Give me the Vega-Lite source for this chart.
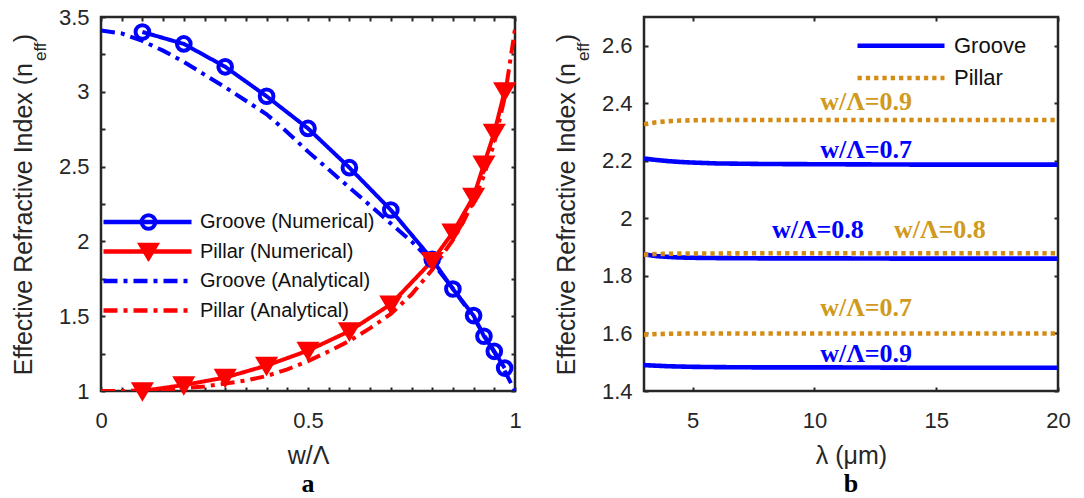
{
  "$schema": "https://vega.github.io/schema/vega-lite/v6.json",
  "background": "white",
  "padding": {"left": 10, "top": 4, "right": 5, "bottom": 0},
  "bounds": "flush",
  "spacing": 129,
  "resolve": {
    "scale": {"x": "independent", "y": "independent", "color": "independent", "strokeDash": "independent", "shape": "independent", "stroke": "independent", "fill": "independent"},
    "legend": {"color": "independent", "strokeDash": "independent", "shape": "independent", "stroke": "independent", "fill": "independent"}
  },
  "config": {
    "view": {"stroke": "#262626", "strokeWidth": 2.5},
    "font": "Liberation Sans",
    "axis": {
      "domain": false,
      "grid": false,
      "tickSize": -4,
      "tickWidth": 2,
      "tickColor": "#262626",
      "labelFont": "Liberation Sans",
      "labelFontSize": 22,
      "labelColor": "#262626",
      "labelFlush": false,
      "labelOverlap": false,
      "titleFont": "Liberation Sans",
      "titleFontSize": 25,
      "titleFontWeight": "normal",
      "titleColor": "#262626"
    },
    "axisX": {"labelPadding": 23, "titlePadding": 12},
    "axisY": {"labelPadding": 16, "titlePadding": 22},
    "legend": {"labelLimit": 400, "padding": 0, "titlePadding": 0}
  },
  "datasets": {
    "neff": [
      {"series": "Groove (Numerical)", "w": 0.1, "n": 3.40},
      {"series": "Groove (Numerical)", "w": 0.2, "n": 3.32},
      {"series": "Groove (Numerical)", "w": 0.3, "n": 3.167},
      {"series": "Groove (Numerical)", "w": 0.4, "n": 2.97},
      {"series": "Groove (Numerical)", "w": 0.5, "n": 2.755},
      {"series": "Groove (Numerical)", "w": 0.6, "n": 2.493},
      {"series": "Groove (Numerical)", "w": 0.7, "n": 2.21},
      {"series": "Groove (Numerical)", "w": 0.8, "n": 1.88},
      {"series": "Groove (Numerical)", "w": 0.85, "n": 1.682},
      {"series": "Groove (Numerical)", "w": 0.9, "n": 1.504},
      {"series": "Groove (Numerical)", "w": 0.925, "n": 1.366},
      {"series": "Groove (Numerical)", "w": 0.95, "n": 1.265},
      {"series": "Groove (Numerical)", "w": 0.975, "n": 1.153},
      {"series": "Pillar (Numerical)", "w": 0.1, "n": 1.0},
      {"series": "Pillar (Numerical)", "w": 0.2, "n": 1.04},
      {"series": "Pillar (Numerical)", "w": 0.3, "n": 1.09},
      {"series": "Pillar (Numerical)", "w": 0.4, "n": 1.17},
      {"series": "Pillar (Numerical)", "w": 0.5, "n": 1.27},
      {"series": "Pillar (Numerical)", "w": 0.6, "n": 1.40},
      {"series": "Pillar (Numerical)", "w": 0.7, "n": 1.58},
      {"series": "Pillar (Numerical)", "w": 0.8, "n": 1.87},
      {"series": "Pillar (Numerical)", "w": 0.85, "n": 2.06},
      {"series": "Pillar (Numerical)", "w": 0.9, "n": 2.30},
      {"series": "Pillar (Numerical)", "w": 0.925, "n": 2.515},
      {"series": "Pillar (Numerical)", "w": 0.95, "n": 2.727},
      {"series": "Pillar (Numerical)", "w": 0.975, "n": 3.004},
      {"series": "Groove (Analytical)", "w": 0, "n": 3.41},
      {"series": "Groove (Analytical)", "w": 0.05, "n": 3.39},
      {"series": "Groove (Analytical)", "w": 0.1, "n": 3.34},
      {"series": "Groove (Analytical)", "w": 0.15, "n": 3.275},
      {"series": "Groove (Analytical)", "w": 0.2, "n": 3.20},
      {"series": "Groove (Analytical)", "w": 0.25, "n": 3.115},
      {"series": "Groove (Analytical)", "w": 0.3, "n": 3.03},
      {"series": "Groove (Analytical)", "w": 0.35, "n": 2.94},
      {"series": "Groove (Analytical)", "w": 0.4, "n": 2.85},
      {"series": "Groove (Analytical)", "w": 0.45, "n": 2.73},
      {"series": "Groove (Analytical)", "w": 0.5, "n": 2.60},
      {"series": "Groove (Analytical)", "w": 0.55, "n": 2.48},
      {"series": "Groove (Analytical)", "w": 0.6, "n": 2.36},
      {"series": "Groove (Analytical)", "w": 0.65, "n": 2.24},
      {"series": "Groove (Analytical)", "w": 0.7, "n": 2.12},
      {"series": "Groove (Analytical)", "w": 0.75, "n": 2.00},
      {"series": "Groove (Analytical)", "w": 0.8, "n": 1.86},
      {"series": "Groove (Analytical)", "w": 0.85, "n": 1.685},
      {"series": "Groove (Analytical)", "w": 0.9, "n": 1.49},
      {"series": "Groove (Analytical)", "w": 0.925, "n": 1.375},
      {"series": "Groove (Analytical)", "w": 0.95, "n": 1.26},
      {"series": "Groove (Analytical)", "w": 0.975, "n": 1.135},
      {"series": "Groove (Analytical)", "w": 1.0, "n": 1.0},
      {"series": "Pillar (Analytical)", "w": 0, "n": 1.0},
      {"series": "Pillar (Analytical)", "w": 0.05, "n": 1.0},
      {"series": "Pillar (Analytical)", "w": 0.1, "n": 1.005},
      {"series": "Pillar (Analytical)", "w": 0.15, "n": 1.01},
      {"series": "Pillar (Analytical)", "w": 0.2, "n": 1.02},
      {"series": "Pillar (Analytical)", "w": 0.25, "n": 1.03},
      {"series": "Pillar (Analytical)", "w": 0.3, "n": 1.05},
      {"series": "Pillar (Analytical)", "w": 0.35, "n": 1.07},
      {"series": "Pillar (Analytical)", "w": 0.4, "n": 1.10},
      {"series": "Pillar (Analytical)", "w": 0.45, "n": 1.145},
      {"series": "Pillar (Analytical)", "w": 0.5, "n": 1.20},
      {"series": "Pillar (Analytical)", "w": 0.55, "n": 1.265},
      {"series": "Pillar (Analytical)", "w": 0.6, "n": 1.335},
      {"series": "Pillar (Analytical)", "w": 0.65, "n": 1.42},
      {"series": "Pillar (Analytical)", "w": 0.7, "n": 1.515},
      {"series": "Pillar (Analytical)", "w": 0.75, "n": 1.645},
      {"series": "Pillar (Analytical)", "w": 0.8, "n": 1.81},
      {"series": "Pillar (Analytical)", "w": 0.85, "n": 2.01},
      {"series": "Pillar (Analytical)", "w": 0.875, "n": 2.13},
      {"series": "Pillar (Analytical)", "w": 0.9, "n": 2.27},
      {"series": "Pillar (Analytical)", "w": 0.925, "n": 2.44},
      {"series": "Pillar (Analytical)", "w": 0.95, "n": 2.66},
      {"series": "Pillar (Analytical)", "w": 0.975, "n": 2.96},
      {"series": "Pillar (Analytical)", "w": 1.0, "n": 3.42}
    ],
    "spectra": [
      {"type": "Groove", "ratio": "0.7", "lam": 3, "n": 2.208},
      {"type": "Groove", "ratio": "0.7", "lam": 3.5, "n": 2.203},
      {"type": "Groove", "ratio": "0.7", "lam": 4, "n": 2.199},
      {"type": "Groove", "ratio": "0.7", "lam": 4.5, "n": 2.196},
      {"type": "Groove", "ratio": "0.7", "lam": 5, "n": 2.194},
      {"type": "Groove", "ratio": "0.7", "lam": 6, "n": 2.191},
      {"type": "Groove", "ratio": "0.7", "lam": 8, "n": 2.189},
      {"type": "Groove", "ratio": "0.7", "lam": 11, "n": 2.188},
      {"type": "Groove", "ratio": "0.7", "lam": 14, "n": 2.187},
      {"type": "Groove", "ratio": "0.7", "lam": 20, "n": 2.187},
      {"type": "Groove", "ratio": "0.8", "lam": 3, "n": 1.875},
      {"type": "Groove", "ratio": "0.8", "lam": 3.5, "n": 1.869},
      {"type": "Groove", "ratio": "0.8", "lam": 4, "n": 1.866},
      {"type": "Groove", "ratio": "0.8", "lam": 4.5, "n": 1.864},
      {"type": "Groove", "ratio": "0.8", "lam": 5, "n": 1.863},
      {"type": "Groove", "ratio": "0.8", "lam": 6, "n": 1.862},
      {"type": "Groove", "ratio": "0.8", "lam": 8, "n": 1.861},
      {"type": "Groove", "ratio": "0.8", "lam": 11, "n": 1.861},
      {"type": "Groove", "ratio": "0.8", "lam": 14, "n": 1.86},
      {"type": "Groove", "ratio": "0.8", "lam": 20, "n": 1.86},
      {"type": "Groove", "ratio": "0.9", "lam": 3, "n": 1.49},
      {"type": "Groove", "ratio": "0.9", "lam": 3.5, "n": 1.488},
      {"type": "Groove", "ratio": "0.9", "lam": 4, "n": 1.486},
      {"type": "Groove", "ratio": "0.9", "lam": 4.5, "n": 1.485},
      {"type": "Groove", "ratio": "0.9", "lam": 5, "n": 1.484},
      {"type": "Groove", "ratio": "0.9", "lam": 6, "n": 1.483},
      {"type": "Groove", "ratio": "0.9", "lam": 8, "n": 1.482},
      {"type": "Groove", "ratio": "0.9", "lam": 11, "n": 1.482},
      {"type": "Groove", "ratio": "0.9", "lam": 14, "n": 1.481},
      {"type": "Groove", "ratio": "0.9", "lam": 20, "n": 1.481},
      {"type": "Pillar", "ratio": "0.9", "lam": 3, "n": 2.327},
      {"type": "Pillar", "ratio": "0.9", "lam": 3.5, "n": 2.334},
      {"type": "Pillar", "ratio": "0.9", "lam": 4, "n": 2.338},
      {"type": "Pillar", "ratio": "0.9", "lam": 4.5, "n": 2.34},
      {"type": "Pillar", "ratio": "0.9", "lam": 5, "n": 2.341},
      {"type": "Pillar", "ratio": "0.9", "lam": 6, "n": 2.342},
      {"type": "Pillar", "ratio": "0.9", "lam": 8, "n": 2.342},
      {"type": "Pillar", "ratio": "0.9", "lam": 11, "n": 2.342},
      {"type": "Pillar", "ratio": "0.9", "lam": 14, "n": 2.342},
      {"type": "Pillar", "ratio": "0.9", "lam": 20, "n": 2.342},
      {"type": "Pillar", "ratio": "0.8", "lam": 3, "n": 1.874},
      {"type": "Pillar", "ratio": "0.8", "lam": 3.5, "n": 1.876},
      {"type": "Pillar", "ratio": "0.8", "lam": 4, "n": 1.877},
      {"type": "Pillar", "ratio": "0.8", "lam": 5, "n": 1.878},
      {"type": "Pillar", "ratio": "0.8", "lam": 6, "n": 1.878},
      {"type": "Pillar", "ratio": "0.8", "lam": 8, "n": 1.879},
      {"type": "Pillar", "ratio": "0.8", "lam": 11, "n": 1.879},
      {"type": "Pillar", "ratio": "0.8", "lam": 14, "n": 1.879},
      {"type": "Pillar", "ratio": "0.8", "lam": 20, "n": 1.879},
      {"type": "Pillar", "ratio": "0.7", "lam": 3, "n": 1.596},
      {"type": "Pillar", "ratio": "0.7", "lam": 3.5, "n": 1.598},
      {"type": "Pillar", "ratio": "0.7", "lam": 4, "n": 1.599},
      {"type": "Pillar", "ratio": "0.7", "lam": 5, "n": 1.6},
      {"type": "Pillar", "ratio": "0.7", "lam": 8, "n": 1.6},
      {"type": "Pillar", "ratio": "0.7", "lam": 11, "n": 1.6},
      {"type": "Pillar", "ratio": "0.7", "lam": 14, "n": 1.6},
      {"type": "Pillar", "ratio": "0.7", "lam": 20, "n": 1.6}
    ],
    "ratioLabels": [
      {"type": "Pillar", "label": "w/Λ=0.9", "lam": 12.12, "n": 2.403},
      {"type": "Groove", "label": "w/Λ=0.7", "lam": 12.12, "n": 2.239},
      {"type": "Groove", "label": "w/Λ=0.8", "lam": 10.14, "n": 1.959},
      {"type": "Pillar", "label": "w/Λ=0.8", "lam": 15.15, "n": 1.959},
      {"type": "Pillar", "label": "w/Λ=0.7", "lam": 12.12, "n": 1.687},
      {"type": "Groove", "label": "w/Λ=0.9", "lam": 12.12, "n": 1.53}
    ]
  },
  "hconcat": [
    {
      "width": 414,
      "height": 374,
      "title": {"text": "a", "orient": "bottom", "font": "Liberation Serif", "fontSize": 26, "fontWeight": "bold", "color": "#000000", "offset": 3},
      "resolve": {"axis": {"x": "independent", "y": "independent"}},
      "layer": [
        {
          "data": {"name": "neff"},
          "mark": {"type": "line", "strokeWidth": 4, "strokeCap": "butt", "clip": true},
          "encoding": {
            "x": {
              "field": "w", "type": "quantitative",
              "scale": {"domain": [0, 1], "nice": false, "zero": false},
              "axis": {
                "orient": "bottom", "title": "w/Λ",
                "values": [0, 0.05, 0.1, 0.15, 0.2, 0.25, 0.3, 0.35, 0.4, 0.45, 0.5, 0.55, 0.6, 0.65, 0.7, 0.75, 0.8, 0.85, 0.9, 0.95, 1],
                "labelExpr": "datum.value % 0.5 === 0 ? format(datum.value, '~g') : ''"
              }
            },
            "y": {
              "field": "n", "type": "quantitative",
              "scale": {"domain": [1, 3.5], "nice": false, "zero": false},
              "axis": {
                "orient": "left", "title": "Effective Refractive Index (n\u00a0\u00a0\u00a0)",
                "values": [1, 1.25, 1.5, 1.75, 2, 2.25, 2.5, 2.75, 3, 3.25, 3.5],
                "labelExpr": "datum.value % 0.5 === 0 ? format(datum.value, '~g') : ''"
              }
            },
            "color": {
              "field": "series", "type": "nominal",
              "scale": {
                "domain": ["Groove (Numerical)", "Pillar (Numerical)", "Groove (Analytical)", "Pillar (Analytical)"],
                "range": ["#0000FF", "#FF0000", "#0000FF", "#FF0000"]
              },
              "legend": {
                "orient": "none", "legendX": 0, "legendY": 195, "title": null,
                "symbolType": "stroke", "symbolSize": 7744, "symbolStrokeWidth": 4.5,
                "clipHeight": 20, "rowPadding": 9.5, "labelFontSize": 20, "labelOffset": 6,
                "labelColor": "#111111", "labelFont": "Liberation Sans"
              }
            },
            "strokeDash": {
              "field": "series", "type": "nominal",
              "scale": {
                "domain": ["Groove (Numerical)", "Pillar (Numerical)", "Groove (Analytical)", "Pillar (Analytical)"],
                "range": [[1, 0], [1, 0], [14, 6, 4, 6], [14, 6, 4, 6]]
              },
              "legend": {
                "orient": "none", "legendX": 0, "legendY": 195, "title": null,
                "symbolType": "stroke", "symbolSize": 7744, "symbolStrokeWidth": 4.5,
                "clipHeight": 20, "rowPadding": 9.5, "labelFontSize": 20, "labelOffset": 6,
                "labelColor": "#111111", "labelFont": "Liberation Sans"
              }
            }
          }
        },
        {
          "data": {"name": "neff"},
          "transform": [{"filter": {"field": "series", "oneOf": ["Groove (Numerical)", "Pillar (Numerical)"]}}],
          "mark": {"type": "point", "size": 360, "strokeWidth": 4, "opacity": 1},
          "encoding": {
            "x": {
              "field": "w", "type": "quantitative",
              "scale": {"domain": [0, 1], "nice": false, "zero": false},
              "axis": {
                "orient": "top", "title": null, "labels": false,
                "values": [0, 0.05, 0.1, 0.15, 0.2, 0.25, 0.3, 0.35, 0.4, 0.45, 0.5, 0.55, 0.6, 0.65, 0.7, 0.75, 0.8, 0.85, 0.9, 0.95, 1]
              }
            },
            "y": {
              "field": "n", "type": "quantitative",
              "scale": {"domain": [1, 3.5], "nice": false, "zero": false},
              "axis": {
                "orient": "right", "title": null, "labels": false,
                "values": [1, 1.25, 1.5, 1.75, 2, 2.25, 2.5, 2.75, 3, 3.25, 3.5]
              }
            },
            "shape": {
              "field": "series", "type": "nominal",
              "scale": {
                "domain": ["Groove (Numerical)", "Pillar (Numerical)"],
                "range": ["M0.72,0A0.72,0.72,0,1,1,-0.72,0A0.72,0.72,0,1,1,0.72,0Z", "M0,0.72L-0.85,-0.72L0.85,-0.72Z"]
              },
              "legend": {
                "orient": "none", "legendX": 36, "legendY": 195, "title": null,
                "symbolSize": 360, "symbolStrokeWidth": 4,
                "clipHeight": 20, "rowPadding": 9.5, "labelFontSize": 20, "labelExpr": "''"
              }
            },
            "stroke": {
              "field": "series", "type": "nominal",
              "scale": {"domain": ["Groove (Numerical)", "Pillar (Numerical)"], "range": ["#0000FF", "#FF0000"]},
              "legend": {
                "orient": "none", "legendX": 36, "legendY": 195, "title": null,
                "symbolSize": 360, "symbolStrokeWidth": 4,
                "clipHeight": 20, "rowPadding": 9.5, "labelFontSize": 20, "labelExpr": "''"
              }
            },
            "fill": {
              "field": "series", "type": "nominal",
              "scale": {"domain": ["Groove (Numerical)", "Pillar (Numerical)"], "range": ["transparent", "#FF0000"]},
              "legend": {
                "orient": "none", "legendX": 36, "legendY": 195, "title": null,
                "symbolSize": 360, "symbolStrokeWidth": 4,
                "clipHeight": 20, "rowPadding": 9.5, "labelFontSize": 20, "labelExpr": "''"
              }
            }
          }
        },
        {
          "data": {"values": [{"w": 0, "n": 3.268, "sub": "eff"}]},
          "mark": {"type": "text", "angle": 270, "dy": -60, "fontSize": 17, "align": "center", "baseline": "middle", "color": "#262626", "font": "Liberation Sans"},
          "encoding": {
            "x": {"field": "w", "type": "quantitative", "axis": null},
            "y": {"field": "n", "type": "quantitative", "axis": null},
            "text": {"field": "sub"}
          }
        }
      ]
    },
    {
      "width": 414,
      "height": 374,
      "title": {"text": "b", "orient": "bottom", "font": "Liberation Serif", "fontSize": 26, "fontWeight": "bold", "color": "#000000", "offset": 3},
      "resolve": {"axis": {"x": "independent", "y": "independent"}},
      "layer": [
        {
          "data": {"name": "spectra"},
          "mark": {"type": "line", "strokeWidth": 4.6, "strokeCap": "butt", "clip": true},
          "encoding": {
            "x": {
              "field": "lam", "type": "quantitative",
              "scale": {"domain": [3, 20], "nice": false, "zero": false},
              "axis": {"orient": "bottom", "title": "λ (μm)", "values": [5, 10, 15, 20], "format": "~g"}
            },
            "y": {
              "field": "n", "type": "quantitative",
              "scale": {"domain": [1.4, 2.7], "nice": false, "zero": false},
              "axis": {"orient": "left", "title": "Effective Refractive Index (n\u00a0\u00a0\u00a0)", "values": [1.4, 1.6, 1.8, 2, 2.2, 2.4, 2.6], "format": "~g"}
            },
            "detail": {"field": "ratio"},
            "color": {
              "field": "type", "type": "nominal",
              "scale": {"domain": ["Groove", "Pillar"], "range": ["#0000FF", "#D48C14"]},
              "legend": {
                "orient": "none", "legendX": 211, "legendY": 17.7, "title": null,
                "symbolType": "stroke", "symbolSize": 7569, "symbolStrokeWidth": 4.6,
                "clipHeight": 22, "rowPadding": 10.3, "labelFontSize": 22, "labelOffset": 7,
                "labelColor": "#111111", "labelFont": "Liberation Sans"
              }
            },
            "strokeDash": {
              "field": "type", "type": "nominal",
              "scale": {"domain": ["Groove", "Pillar"], "range": [[1, 0], [4.3, 4]]},
              "legend": {
                "orient": "none", "legendX": 211, "legendY": 17.7, "title": null,
                "symbolType": "stroke", "symbolSize": 7569, "symbolStrokeWidth": 4.6,
                "clipHeight": 22, "rowPadding": 10.3, "labelFontSize": 22, "labelOffset": 7,
                "labelColor": "#111111", "labelFont": "Liberation Sans"
              }
            }
          }
        },
        {
          "data": {"name": "ratioLabels"},
          "transform": [{"filter": "datum.type === 'Groove'"}],
          "mark": {"type": "text", "font": "Liberation Serif", "fontWeight": "bold", "fontSize": 26, "color": "#0000FF", "align": "center", "baseline": "middle"},
          "encoding": {
            "x": {
              "field": "lam", "type": "quantitative",
              "scale": {"domain": [3, 20], "nice": false, "zero": false},
              "axis": {"orient": "top", "title": null, "labels": false, "values": [5, 10, 15, 20]}
            },
            "y": {
              "field": "n", "type": "quantitative",
              "scale": {"domain": [1.4, 2.7], "nice": false, "zero": false},
              "axis": {"orient": "right", "title": null, "labels": false, "values": [1.4, 1.6, 1.8, 2, 2.2, 2.4, 2.6]}
            },
            "text": {"field": "label"}
          }
        },
        {
          "data": {"name": "ratioLabels"},
          "transform": [{"filter": "datum.type === 'Pillar'"}],
          "mark": {"type": "text", "font": "Liberation Serif", "fontWeight": "bold", "fontSize": 26, "color": "#D09A1C", "align": "center", "baseline": "middle"},
          "encoding": {
            "x": {"field": "lam", "type": "quantitative", "axis": null},
            "y": {"field": "n", "type": "quantitative", "axis": null},
            "text": {"field": "label"}
          }
        },
        {
          "data": {"values": [{"lam": 3, "n": 2.579, "sub": "eff"}]},
          "mark": {"type": "text", "angle": 270, "dy": -60, "fontSize": 17, "align": "center", "baseline": "middle", "color": "#262626", "font": "Liberation Sans"},
          "encoding": {
            "x": {"field": "lam", "type": "quantitative", "axis": null},
            "y": {"field": "n", "type": "quantitative", "axis": null},
            "text": {"field": "sub"}
          }
        }
      ]
    }
  ]
}
